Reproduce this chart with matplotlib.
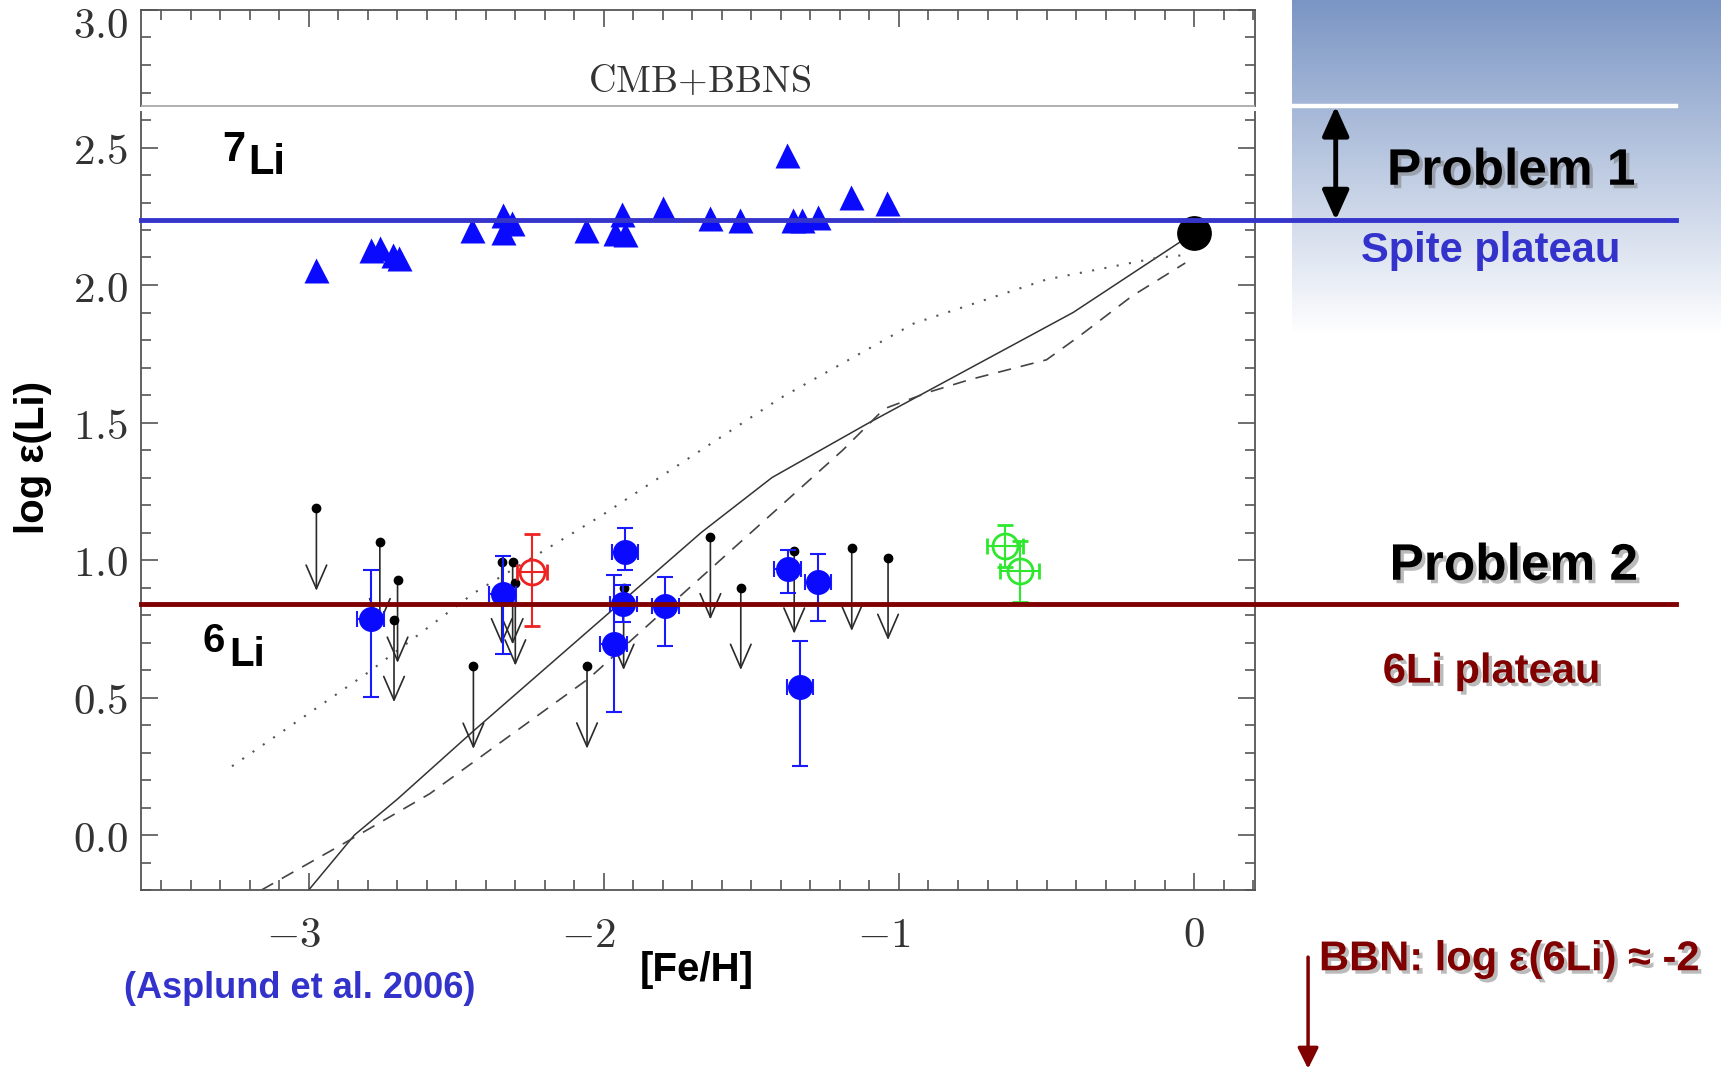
import numpy as np
import matplotlib
matplotlib.use("Agg")
import matplotlib.pyplot as plt
from matplotlib import patheffects as pe
from matplotlib.ticker import MultipleLocator, FuncFormatter
from matplotlib.patches import Rectangle
import matplotlib.transforms as mtransforms

plt.rcParams['mathtext.fontset'] = 'cm'

# ---- 7Li abundances of halo dwarfs ----
li7_feh = [-2.974, -2.79, -2.76, -2.714, -2.695, -2.446, -2.342, -2.342, -2.31,
           -2.06, -1.963, -1.937, -1.93, -1.80, -1.64, -1.54, -1.379, -1.36,
           -1.327, -1.275, -1.164, -1.04]
li7_val = [2.056, 2.128, 2.136, 2.108, 2.100, 2.200, 2.256, 2.192, 2.224,
           2.200, 2.190, 2.260, 2.184, 2.280, 2.244, 2.236, 2.472, 2.236,
           2.236, 2.248, 2.320, 2.300]

# ---- 6Li detections ----
li6_feh = [-2.79, -2.343, -1.928, -1.934, -1.967, -1.792, -1.377, -1.274, -1.335]
li6_val = [0.786, 0.875, 1.030, 0.841, 0.696, 0.832, 0.966, 0.919, 0.538]
li6_lo = [0.285, 0.218, 0.067, 0.067, 0.250, 0.145, 0.086, 0.141, 0.286]
li6_hi = [0.177, 0.139, 0.088, 0.067, 0.250, 0.106, 0.070, 0.104, 0.166]
li6_xerr = 0.045

# ---- 6Li upper limits ----
ul_feh = [-2.974, -2.759, -2.699, -2.711, -2.346, -2.309, -2.300, -2.442,
          -2.057, -1.933, -1.639, -1.536, -1.355, -1.160, -1.037]
ul_val = [1.188, 1.066, 0.926, 0.783, 0.993, 0.993, 0.916, 0.613,
          0.614, 0.900, 1.084, 0.900, 1.032, 1.042, 1.009]
ul_len = 0.30

# ---- other 6Li measurements ----
red_feh, red_val, red_lo, red_hi, red_xerr = [-2.244], [0.957], [0.198], [0.139], [0.05]
grn_feh = [-0.641, -0.591]
grn_val = [1.051, 0.959]
grn_lo = [0.075, 0.111]
grn_hi = [0.075, 0.110]
grn_xerr = [0.06, 0.065]

# ---- Sun ----
sun_feh, sun_val = [0.0], [2.19]

# ---- Galactic chemical evolution models ----
solid_feh = [-3.0, -2.845, -2.70, -2.44, -1.67, -1.43, -1.10, -0.41, 0.0]
solid_val = [-0.20, 0.00, 0.13, 0.38, 1.10, 1.30, 1.50, 1.90, 2.19]
dash_feh = [-3.16, -2.88, -2.59, -2.05, -1.74, -1.47, -1.19, -1.05, -0.90,
            -0.76, -0.50, -0.39, -0.21, -0.03]
dash_val = [-0.20, -0.03, 0.15, 0.57, 0.87, 1.13, 1.40, 1.55, 1.61,
            1.656, 1.728, 1.813, 1.96, 2.08]
dot_feh = [-3.26, -2.80, -2.44, -2.01, -1.67, -1.40, -0.95, -0.50, -0.12, -0.02]
dot_val = [0.25, 0.59, 0.88, 1.16, 1.40, 1.59, 1.86, 2.02, 2.10, 2.11]

# ---- reference levels ----
cmb_bbn = 2.65
spite = 2.236
li6_plateau = 0.84

xticks = [-3, -2, -1, 0]
yticks = [0.0, 0.5, 1.0, 1.5, 2.0, 2.5, 3.0]

W, H = 1721, 1067
fig = plt.figure(figsize=(W / 100, H / 100), dpi=100)

# gradient side panel
bg = fig.add_axes([1292 / W, 1 - 335 / H, (W - 1292) / W, 335 / H], zorder=0)
top = np.array([122, 149, 196]) / 255.0
t = np.linspace(0, 1, 256)[:, None]
grad = top[None, :] * (1 - t) + np.ones(3)[None, :] * t
bg.imshow(grad[:, None, :], aspect='auto', extent=[0, 1, 0, 1])
bg.axis('off')

ax = fig.add_axes([140.5 / W, 1 - 890 / H, (1254.6 - 140.5) / W, (890 - 10) / H], zorder=2)
ax.set_xlim(-3.57, 0.205)
ax.set_ylim(-0.2, 3.0)

spine_c = '#555555'
for s in ax.spines.values():
    s.set_color(spine_c)
    s.set_linewidth(1.3)
ax.xaxis.set_minor_locator(MultipleLocator(0.1))
ax.yaxis.set_minor_locator(MultipleLocator(0.1))
ax.set_xticks(xticks)
ax.set_yticks(yticks)
ax.xaxis.set_major_formatter(FuncFormatter(lambda v, p: r'$%d$' % int(round(v))))
ax.yaxis.set_major_formatter(FuncFormatter(lambda v, p: r'$%.1f$' % v))
ax.tick_params(which='both', direction='in', top=True, right=True, color=spine_c, width=1.2)
ax.tick_params(which='major', length=12)
ax.tick_params(which='minor', length=7)
ax.tick_params(axis='x', which='major', pad=17, labelsize=31, labelcolor='#333333')
ax.tick_params(axis='y', which='major', pad=9, labelsize=31, labelcolor='#333333')

fig.canvas.draw()
# keep the topmost y label inside the figure
for lab in ax.get_yticklabels():
    if lab.get_text() and abs(lab.get_position()[1] - 3.0) < 1e-6:
        lab.set_transform(lab.get_transform() +
                          mtransforms.ScaledTranslation(0, -0.12, fig.dpi_scale_trans))
# centre the digit (not the minus sign) under its tick
for lab in ax.get_xticklabels():
    if lab.get_text() and lab.get_position()[0] < -0.5:
        lab.set_transform(lab.get_transform() +
                          mtransforms.ScaledTranslation(-0.15, 0, fig.dpi_scale_trans))

# small break in the frame under the CMB+BBNS level
blend = mtransforms.blended_transform_factory(ax.transAxes, ax.transData)
ax.add_patch(Rectangle((-0.01, 2.631), 1.02, 0.016, transform=blend, color='white',
                       zorder=2.6, clip_on=False, lw=0))
ax.axhline(cmb_bbn, color='#aaaaaa', lw=1.3, zorder=2.7)
ax.text(-1.677, 2.738, r'$\mathrm{CMB}{+}\mathrm{BBNS}$', ha='center', va='center',
        fontsize=27.5, color='#333333')

# model curves
ax.plot(solid_feh, solid_val, color='#333333', lw=1.1, zorder=2)
ax.plot(dash_feh, dash_val, color='#444444', lw=1.2, ls=(0, (8, 6)), zorder=2)
ax.plot(dot_feh, dot_val, color='#555555', lw=1.5, ls=(0, (1, 5)), zorder=2)

# 7Li
ax.plot(li7_feh, li7_val, ls='none', marker='^', ms=18, color='#0a0aff', mec='none', zorder=3)
# Sun
ax.plot(sun_feh, sun_val, ls='none', marker='o', ms=24, color='black', zorder=3)

# upper limits
for x, y in zip(ul_feh, ul_val):
    ax.annotate('', xy=(x, y - ul_len), xytext=(x, y),
                arrowprops=dict(arrowstyle='->,head_length=0.85,head_width=0.37',
                                color='#2a2a2a', lw=1.2, mutation_scale=20,
                                shrinkA=0, shrinkB=0), zorder=3)
ax.plot(ul_feh, ul_val, ls='none', marker='o', ms=6, color='black', zorder=3)

# 6Li detections
ax.errorbar(li6_feh, li6_val, yerr=[li6_lo, li6_hi], xerr=li6_xerr, fmt='o', ms=18,
            color='#0a0aff', ecolor='#1a1aff', elinewidth=1.5, capsize=5.5, capthick=1.5,
            mec='none', zorder=4)
ax.errorbar(red_feh, red_val, yerr=[red_lo, red_hi], xerr=red_xerr, fmt='o', ms=18,
            mfc='none', mec='#ee2222', mew=2, ecolor='#ee2222', elinewidth=1.5,
            capsize=5.5, capthick=1.5, zorder=4)
ax.errorbar(grn_feh, grn_val, yerr=[grn_lo, grn_hi], xerr=grn_xerr, fmt='o', ms=18,
            mfc='none', mec='#2ee82e', mew=2, ecolor='#2ee82e', elinewidth=1.5,
            capsize=5.5, capthick=1.5, zorder=4)

# plateaus, extended into the side panel
ax.axhline(spite, xmin=0, xmax=1.378, color='#3535cc', lw=3.5, clip_on=False, zorder=6)
ax.axhline(li6_plateau, xmin=0, xmax=1.378, color='#800000', lw=3.5, clip_on=False, zorder=6)
ax.axhline(cmb_bbn, xmin=1.0333, xmax=1.378, color='white', lw=3.2, clip_on=False, zorder=6)

# Problem 1 gap arrow
ax.annotate('', xy=(1.0728, spite), xytext=(1.0728, cmb_bbn),
            xycoords=('axes fraction', 'data'), textcoords=('axes fraction', 'data'),
            arrowprops=dict(arrowstyle='<|-|>,head_length=1.0,head_width=0.45',
                            color='black', lw=3.5, mutation_scale=18,
                            shrinkA=0, shrinkB=0),
            annotation_clip=False, zorder=7)

# BBN 6Li arrow
ax.annotate('', xy=(1.048, -0.85), xytext=(1.048, -0.444),
            xycoords=('axes fraction', 'data'), textcoords=('axes fraction', 'data'),
            arrowprops=dict(arrowstyle='-|>,head_length=0.7,head_width=0.35',
                            color='#800000', lw=2.5, mutation_scale=18,
                            shrinkA=0, shrinkB=0),
            annotation_clip=False, zorder=7)

# isotope labels
sans = ['Liberation Sans', 'DejaVu Sans']
ax.text(-3.292, 2.45, '7', fontsize=30, fontweight='bold', family=sans, va='baseline', zorder=5)
ax.text(-3.206, 2.402, 'Li', fontsize=30, fontweight='bold', family=sans, va='baseline', zorder=5)
ax.text(-3.36, 0.664, '6', fontsize=29, fontweight='bold', family=sans, va='baseline', zorder=5)
ax.text(-3.27, 0.616, 'Li', fontsize=29, fontweight='bold', family=sans, va='baseline', zorder=5)

shadow = [pe.withSimplePatchShadow(offset=(2.5, -2.5), shadow_rgbFace='#777777', alpha=0.5)]

fig.text(0.878, 0.8395, 'Problem 1', ha='center', va='center', fontsize=37,
         fontweight='bold', family=sans, color='black', path_effects=shadow)
fig.text(0.866, 0.7645, 'Spite plateau', ha='center', va='center', fontsize=30,
         fontweight='bold', family=sans, color='#3333cc')
fig.text(0.8795, 0.4693, 'Problem 2', ha='center', va='center', fontsize=37,
         fontweight='bold', family=sans, color='black', path_effects=shadow)
fig.text(0.8667, 0.3706, '6Li plateau', ha='center', va='center', fontsize=30,
         fontweight='bold', family=sans, color='#800000', path_effects=shadow)
fig.text(0.7664, 0.101, 'BBN: log ε(6Li) ≈ -2', ha='left', va='center', fontsize=30,
         fontweight='bold', family=sans, color='#800000', path_effects=shadow)
fig.text(0.174, 0.0733, '(Asplund et al. 2006)', ha='center', va='center', fontsize=26,
         fontweight='bold', family=sans, color='#3333cc')
fig.text(0.4047, 0.0912, '[Fe/H]', ha='center', va='center', fontsize=29,
         fontweight='bold', family=sans, color='black')
fig.text(0.0192, 0.571, 'log ε(Li)', ha='center', va='center', rotation=90, fontsize=29,
         fontweight='bold', family=sans, color='black')

fig.savefig('out.png', dpi=100)
